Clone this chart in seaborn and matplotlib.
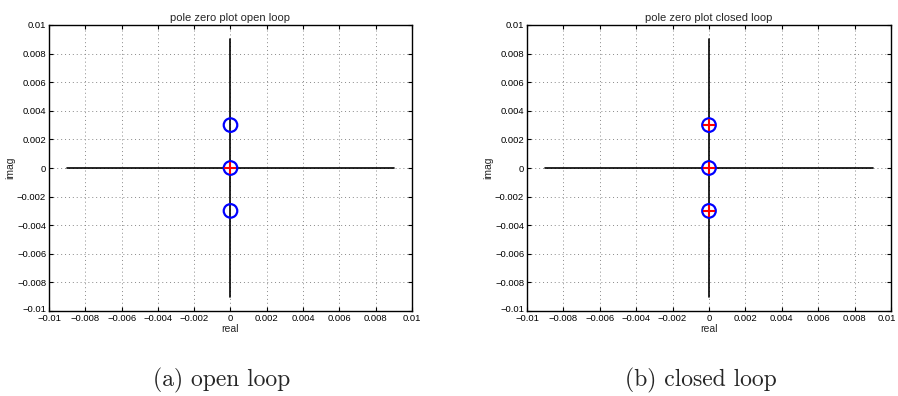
import matplotlib
matplotlib.use("Agg")
import matplotlib.pyplot as plt
import matplotlib.transforms as mtransforms
import seaborn as sns
import numpy as np
import pandas as pd

# data
zeros_open_real = [0.0, 0.0, 0.0]
zeros_open_imag = [0.003, 0.0, -0.003]
poles_open_real = [0.0]
poles_open_imag = [0.0]

zeros_closed_real = [0.0, 0.0, 0.0]
zeros_closed_imag = [0.003, 0.0, -0.003]
poles_closed_real = [0.0, 0.0, 0.0]
poles_closed_imag = [0.003, 0.0, -0.003]

axis_extent = [-0.009, 0.009]
ticks = [-0.01, -0.008, -0.006, -0.004, -0.002, 0, 0.002, 0.004, 0.006, 0.008, 0.01]
tick_labels = ["\u22120.01", "\u22120.008", "\u22120.006", "\u22120.004", "\u22120.002", "0",
               "0.002", "0.004", "0.006", "0.008", "0.01"]
titles = ["pole zero plot open loop", "pole zero plot closed loop"]
captions = ["(a) open loop", "(b) closed loop"]

sns.set_style("white")
plt.rcParams["font.family"] = ["Liberation Sans", "DejaVu Sans"]

fig = plt.figure(figsize=(8.98, 3.96), dpi=100)
positions = [[49/898, 85/396, 363/898, 286/396], [527/898, 85/396, 364/898, 286/396]]
caption_x = [222/898, 701/898]
panels = [
    (zeros_open_real, zeros_open_imag, poles_open_real, poles_open_imag),
    (zeros_closed_real, zeros_closed_imag, poles_closed_real, poles_closed_imag),
]

for i, (zr, zi, pr, pi) in enumerate(panels):
    ax = fig.add_axes(positions[i])
    ax.grid(True, linestyle=(0, (1, 3)), color="#888888", linewidth=0.7)
    ax.set_axisbelow(True)
    # axis cross
    sns.lineplot(x=axis_extent, y=[0, 0], color="black", linewidth=1.2, ax=ax, zorder=2)
    sns.lineplot(x=[0, 0], y=axis_extent, color="black", linewidth=1.2, ax=ax, zorder=2,
                 sort=False, estimator=None)
    sns.scatterplot(x=zr, y=zi, marker="o", s=95, facecolors="none", edgecolor="#0000ff",
                    linewidth=1.6, ax=ax, zorder=3)
    sns.scatterplot(x=pr, y=pi, marker="+", s=65, color="#ff0000", linewidth=1.5, ax=ax, zorder=4)
    ax.set_xlim(-0.01, 0.01)
    ax.set_ylim(-0.01, 0.01)
    ax.set_xticks(ticks)
    ax.set_yticks(ticks)
    ax.set_xticklabels(tick_labels, fontsize=6.8)
    ax.set_yticklabels(tick_labels, fontsize=6.8)
    ax.tick_params(direction="in", length=3, width=0.8, top=True, right=True,
                   bottom=True, left=True, pad=2, colors="black")
    # lowest y label sits above the corner, as in the reference
    ylab0 = ax.get_yticklabels()[0]
    ylab0.set_verticalalignment("bottom")
    ylab0.set_transform(ylab0.get_transform() +
                        mtransforms.ScaledTranslation(0, -3/100, fig.dpi_scale_trans))
    if i == 1:
        xlast = ax.get_xticklabels()[-1]
        xlast.set_transform(xlast.get_transform() +
                            mtransforms.ScaledTranslation(-4/100, 0, fig.dpi_scale_trans))
    for sp in ax.spines.values():
        sp.set_visible(True)
        sp.set_color("black")
        sp.set_linewidth(1.0)
    ax.set_xlabel("real", fontsize=7.5, labelpad=1)
    ax.set_ylabel("imag", fontsize=7.5, labelpad=1)
    ax.set_title(titles[i], fontsize=8, pad=3)
    fig.text(caption_x[i], 1 - 380/396, captions[i], ha="center", va="center",
             fontsize=17, family=["cmr10", "DejaVu Serif"])

fig.savefig("out.png", dpi=100)
